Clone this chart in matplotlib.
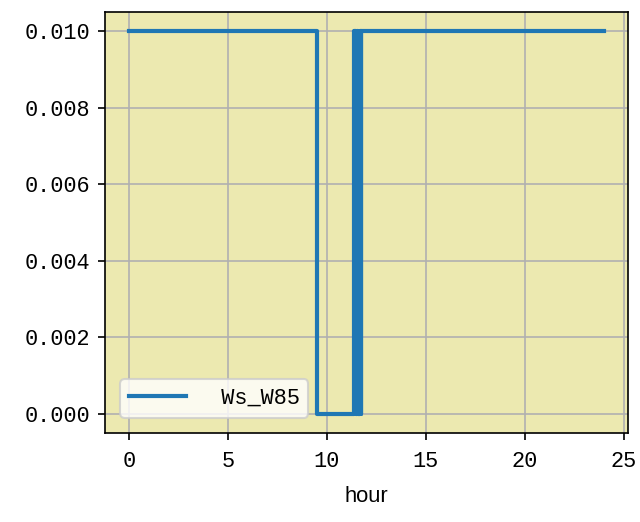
import matplotlib
matplotlib.use("Agg")
import matplotlib.pyplot as plt

plt.rcParams['font.family'] = ['Liberation Mono', 'DejaVu Sans']
plt.rcParams['font.size'] = 10.5
plt.rcParams['axes.unicode_minus'] = False

# toggle points of the Ws_W85 signal (steps-post)
hours = [0.0, 9.5, 11.36, 11.40, 11.44, 11.48, 11.52, 11.56, 11.60,
         11.64, 11.68, 11.72, 11.74, 24.0]
ws_w85 = [0.01, 0.0, 0.01, 0.0, 0.01, 0.0, 0.01, 0.0, 0.01,
          0.0, 0.01, 0.0, 0.01, 0.01]
label = "  Ws_W85"

fig = plt.figure(figsize=(640 / 150, 522 / 150), dpi=150)
ax = fig.add_axes([105 / 640, 1 - 433 / 522, 523 / 640, 421 / 522])
ax.set_facecolor('#ecE9b0')
ax.plot(hours, ws_w85, drawstyle='steps-post', color='#1f77b4',
        linewidth=2, label=label)
ax.set_xticks([0, 5, 10, 15, 20, 25])
ax.set_yticks([0.0, 0.002, 0.004, 0.006, 0.008, 0.010])
ax.set_yticklabels(['0.000', '0.002', '0.004', '0.006', '0.008', '0.010'])
ax.tick_params(axis='x', pad=5)
ax.set_xlabel('hour', family=['Liberation Sans'], labelpad=7)
ax.grid(True, color='#b0b0b0')
ax.set_axisbelow(True)
ax.legend(loc='lower left', handlelength=2.6, handletextpad=0.4,
          borderaxespad=0.7)

fig.savefig('out.png', dpi=150)
